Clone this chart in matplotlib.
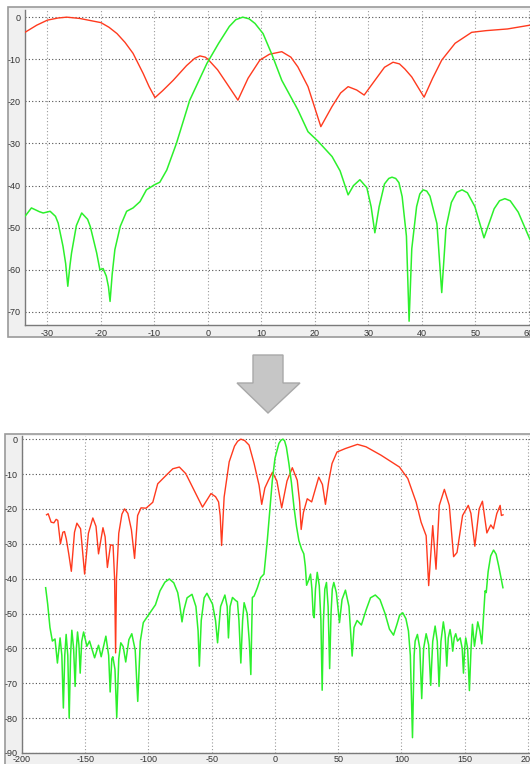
import matplotlib
matplotlib.use("Agg")
import matplotlib.pyplot as plt
from matplotlib.patches import Rectangle, Polygon

plt.rcParams['font.family'] = ['Liberation Sans', 'DejaVu Sans']

# ---------------- upper pattern (narrow angular range) ----------------
top_red_x = [-34.2, -32, -30, -28, -26.4, -24, -22, -20, -18.5, -17, -15.5, -14, -12.1, -11,
             -9.9, -8.5, -6.5, -4, -2.5, -1.5, -0.5, 0, 1.8, 3.5, 5.6, 7.5, 9.7, 11.5, 13.8,
             15.5, 16.8, 18.7, 21.1, 23.2, 24.8, 26.2, 27.8, 29.2, 31.5, 33, 34.6, 35.8, 36.8,
             38.1, 40.4, 42, 43.7, 46.2, 49.3, 52, 56, 60.2]
top_red_y = [-3.6, -1.9, -0.7, -0.2, 0, -0.3, -0.8, -1.3, -2.4, -3.9, -6.0, -8.6, -13.4, -16.5,
             -19.1, -17.5, -15, -11.5, -9.8, -9.2, -9.5, -10, -12.5, -15.7, -19.7, -14.5, -10.2,
             -8.8, -8.2, -9.5, -11.8, -16.5, -26, -21.2, -18.0, -16.5, -17.3, -18.5, -14.5,
             -11.9, -10.7, -11.1, -12.3, -14.2, -19, -14.5, -10.2, -6.2, -3.6, -3.2, -2.8, -1.9]

top_green_x = [-34.2, -33, -31.5, -30.8, -29.5, -28.5, -28, -27.1, -26.6, -26.2, -25.8, -25.5,
               -24.6, -23.6, -22.5, -22, -20.8, -20.2, -19.6, -19, -18.6, -18.3, -17.9, -17.4,
               -16.4, -15.2, -14, -12.7, -11.5, -10, -9, -7.7, -5.9, -3.4, -0.2, 2, 4, 5.2, 6.5,
               7.7, 8.8, 10.3, 12, 13.8, 16.8, 18.7, 20.6, 23.2, 24.7, 26.2, 27.2, 28.4, 29.7,
               30.5, 31.2, 32, 33, 33.8, 34.4, 35.1, 35.7, 36.3, 37.1, 37.6, 38.1, 39, 39.6,
               40.2, 40.9, 41.5, 42.8, 43.7, 44.5, 45.5, 46.5, 47.5, 48.5, 49.9, 51.6, 53.5,
               54.5, 55.5, 56.5, 58, 60.2]
top_green_y = [-47.3, -45.3, -46.2, -46.5, -46.1, -47.3, -48.9, -54.4, -58.5, -63.9, -59, -56,
               -49.5, -46.5, -48.0, -49.7, -56, -60, -59.7, -61.5, -64, -67.5, -61, -55.2,
               -49.7, -46.1, -45.3, -43.8, -41, -39.8, -39.2, -36.3, -30, -19.7, -11, -6.2,
               -2.2, -0.6, 0, -0.4, -1.5, -3.9, -9, -15, -22, -27.2, -29.5, -33.1, -36.5,
               -42.2, -40, -38.6, -40.5, -45, -51.2, -45, -39.6, -38.3, -38, -38.3, -39.3,
               -42.6, -52, -72.2, -55, -45, -42, -41, -41.3, -42.5, -49, -65.4, -50, -44,
               -41.6, -41, -41.7, -45, -52.4, -45.5, -43.6, -43.1, -43.6, -46.3, -52.8]

top_xticks = [-30, -20, -10, 0, 10, 20, 30, 40, 50, 60]
top_yticks = [0, -10, -20, -30, -40, -50, -60, -70]

# ---------------- lower pattern (full angular range) ----------------
bot_red_x = [-180.6, -179.3, -177, -174.8, -173, -171.7, -169.6, -167.7, -166.4, -165, -163,
             -161, -158.5, -156.6, -153.7, -150.5, -147.5, -144, -141.5, -139.5, -136, -134.3,
             -132.5, -130, -128, -126.8, -126, -125.3, -123.5, -121, -118.9, -116.3, -113.5,
             -111, -108.6, -105.9, -101.9, -96.6, -92.7, -86.1, -80.8, -75.6, -70.5, -63.9,
             -57.3, -50.6, -47, -44.6, -43.3, -42.2, -40.2, -36.2, -32, -29.5, -27, -24,
             -20.5, -16.5, -12.6, -10.5, -8, -5.2, -2, 1.5, 5.3, 9.5, 13.7, 17.6, 19.5, 20.7,
             22.5, 25.5, 29, 34.6, 37.5, 39.9, 42.5, 45.1, 49, 55.6, 65.2, 72, 83.8, 98.4,
             105, 111.6, 115.5, 119.5, 121.5, 124.7, 127.3, 129.9, 133.9, 137.8, 141.2, 143.9,
             148.3, 152.8, 154.9, 158, 161.4, 164, 167.5, 170.6, 172.7, 175.3, 178, 179, 180.3]
bot_red_y = [-21.7, -21.4, -23.8, -24, -23, -23.3, -30, -26.7, -26.5, -28.6, -33, -37.9, -26.7,
             -24.1, -25.7, -38.7, -27, -22.6, -25, -32.9, -25.4, -28, -36.8, -30.3, -30.5, -40,
             -61.3, -40, -27, -21.5, -20, -21.3, -26, -34.2, -21.9, -19.7, -19.8, -18.1, -12.8,
             -10.4, -8.5, -8, -9.9, -14.7, -19.5, -15.6, -16.5, -18, -22, -30.5, -16.6, -6.5,
             -2, -0.6, 0, -0.4, -1.7, -7, -13.2, -18.7, -14, -11.8, -9.5, -12, -19.7, -12,
             -8.2, -11.8, -18, -25.9, -21, -17.1, -18, -10.9, -13, -18.7, -12, -7, -3.7, -2.7,
             -1.5, -2.2, -4.6, -8, -11.3, -18.1, -23.8, -27.7, -42, -24.8, -37.3, -19, -14.4,
             -19, -33.7, -32.5, -21.9, -19, -21.3, -30.7, -20, -17.8, -26.9, -24.6, -25.7,
             -21.4, -19, -21.9, -21.7]

bot_green_x = [-181.3, -179.7, -177.9, -176, -173.9, -172, -169.9, -168.5, -167.3, -166.2,
               -165.1, -163.8, -162.7, -161.6, -160.6, -159.2, -158, -157, -156.1, -155, -154,
               -152.8, -151.3, -148.7, -146.6, -142.6, -139.5, -137.4, -133.7, -131.5, -130.3,
               -129, -128.2, -126.5, -125.1, -123.5, -121.9, -120, -118, -115.5, -113.2,
               -110.5, -108.5, -106.5, -104.1, -98.8, -94.5, -90.9, -87, -83.5, -80, -76.9,
               -75.5, -73.5, -72, -69.5, -65.6, -62.5, -60.8, -59.8, -58.3, -56, -53.8, -49.4,
               -47, -45.4, -43, -39.6, -37.8, -36.8, -35.5, -33.6, -31, -29.7, -28.5, -27,
               -25.6, -24.4, -22, -20.3, -19.1, -17.9, -16.5, -13.9, -11.3, -8.7, -6.1, -4,
               -2.1, 0, 3.1, 4.8, 6.3, 7.6, 9, 11, 13, 15, 17, 18.9, 21, 22.8, 24, 25, 26.5,
               28.1, 29.2, 30.2, 31, 32, 33.4, 35, 36.3, 37.3, 38.3, 39.4, 40.7, 42, 43.2, 44.3,
               45.3, 46.5, 48.5, 51, 53, 55.7, 58.5, 61, 62.5, 64.9, 68.3, 72, 75.5, 79.3, 83,
               87, 90.5, 93.7, 96.5, 98.5, 101, 103.5, 105.5, 107, 108.7, 110, 110.8, 112.6,
               114.5, 116, 117.5, 119.5, 121.5, 123.1, 124.7, 126.6, 128.3, 129.7, 131.2,
               133.1, 134.5, 135.8, 137, 138.4, 139.5, 140.5, 141.7, 142.9, 144.3, 146.4, 148,
               149, 150, 150.8, 152.3, 153.7, 155, 156.1, 157.7, 160.3, 162, 163.5, 165, 166.1,
               167, 168.5, 170.5, 172.8, 174.8, 176.8, 178.5, 180.2]
bot_green_y = [-42.6, -47.3, -54, -57.9, -57.3, -64.2, -57, -62, -77.1, -62, -56, -62, -80, -62,
               -54.8, -60, -70.9, -60, -55.3, -59, -67.1, -58, -55.3, -59.4, -57.9, -62.7,
               -59.1, -62.4, -56.5, -62, -72.5, -63, -62.4, -66, -79.8, -63, -58.4, -59.5,
               -63.9, -57.5, -55.8, -60.5, -75.2, -58, -52.6, -49.8, -47.5, -43.5, -41, -40.1,
               -41.2, -44, -47, -52.4, -49, -45.5, -44.5, -48, -55, -65.1, -52, -45.5, -44.2,
               -47.3, -52, -58.4, -48, -44.7, -48, -57, -48, -45.4, -46.3, -46.6, -52, -64.2,
               -52, -46.9, -50, -58, -67.5, -45.4, -45.0, -42.6, -39.7, -38.7, -29.1, -20,
               -11.8, -5.5, -1.2, -0.3, 0, -0.5, -2.3, -7, -12.5, -19.5, -25, -29.1, -31.5,
               -32.9, -36.5, -41.9, -40.5, -38.7, -43, -50.5, -51.2, -43, -38.2, -42, -52, -72,
               -52, -43, -41.1, -48, -65.8, -50, -43, -41.1, -44, -52.6, -46, -43.3, -48, -62.2,
               -54, -52, -53.3, -49, -45.5, -44.7, -46, -50, -54.5, -56.2, -53, -50.5, -49.8,
               -51.5, -55, -62, -85.6, -62, -57.9, -56, -60, -74.4, -60, -55.8, -59, -70.6,
               -58, -53.6, -58, -70.9, -58, -52.4, -56, -65.1, -57, -54.6, -57, -60.8, -57,
               -55.8, -57.9, -57, -60, -67.1, -60, -57, -60, -72.1, -60, -53.1, -59.4, -52.4,
               -55, -58.7, -50, -43.5, -44, -38, -33.5, -31.8, -33, -36.3, -39.5, -42.6]

bot_xticks = [-200, -150, -100, -50, 0, 50, 100, 150, 200]
bot_yticks = [0, -10, -20, -30, -40, -50, -60, -70, -80, -90]

RED = '#ff3a1e'
GREEN = '#2cf02c'

W, H = 530, 764
fig = plt.figure(figsize=(W / 100, H / 100), dpi=100)
fig.patch.set_facecolor('white')


def fx(px):
    return px / W


def fy(py):
    return 1 - py / H


def panel(x0, y0, x1, y1):
    # light grey window frame behind each plot
    fig.patches.append(Rectangle((fx(x0), fy(y1)), fx(x1 - x0), (y1 - y0) / H,
                                 transform=fig.transFigure, facecolor='#f0f0f0',
                                 edgecolor='#9a9a9a', linewidth=1.2, zorder=-5))


def make_axes(x0, y0, x1, y1, xlim, ylim, xticks, yticks, xpad):
    ax = fig.add_axes([fx(x0), fy(y1), fx(x1 - x0), (y1 - y0) / H])
    ax.set_zorder(2)
    ax.set_facecolor('white')
    ax.set_xlim(*xlim)
    ax.set_ylim(*ylim)
    ax.set_xticks(xticks)
    ax.set_yticks(yticks)
    ax.set_xticklabels([str(t) for t in xticks])
    ax.set_yticklabels([str(t) for t in yticks])
    ax.tick_params(length=0, labelsize=6.5, colors='#333333')
    ax.tick_params(axis='y', pad=3)
    ax.tick_params(axis='x', pad=xpad)
    for s in ('top', 'right'):
        ax.spines[s].set_visible(False)
    for s in ('left', 'bottom'):
        ax.spines[s].set_color('#7a7a7a')
        ax.spines[s].set_linewidth(1.0)
    for t in yticks:
        ax.axhline(t, color='#505050', lw=0.8, ls=(0, (1, 2)), zorder=1)
    for t in xticks:
        ax.axvline(t, color='#9a9a9a', lw=0.8, ls=(0, (1, 2)), zorder=1)
    return ax


# upper window
panel(8, 7, 532, 337)
ax1 = make_axes(25, 10, 530, 325, (-34.2, 60.2), (-73.1, 1.7), top_xticks, top_yticks, 3)
ax1.plot(top_red_x, top_red_y, color=RED, lw=1.0, zorder=3)
ax1.plot(top_green_x, top_green_y, color=GREEN, lw=1.1, zorder=3)

# lower window
panel(5, 434, 532, 766)
ax2 = make_axes(22, 436, 530, 753, (-200, 201.6), (-90, 0.9), bot_xticks, bot_yticks, 1.5)
ax2.plot(bot_red_x, bot_red_y, color=RED, lw=1.0, zorder=3)
ax2.plot(bot_green_x, bot_green_y, color=GREEN, lw=1.1, zorder=3)

# downward arrow between the two windows
arrow_px = [(253, 355), (283, 355), (283, 383), (300, 383), (268, 413),
            (237, 383), (253, 383)]
fig.patches.append(Polygon([(fx(x), fy(y)) for x, y in arrow_px], closed=True,
                           transform=fig.transFigure, facecolor='#c6c6c6',
                           edgecolor='#a8a8a8', linewidth=1.0))

fig.savefig('out.png', dpi=100)
